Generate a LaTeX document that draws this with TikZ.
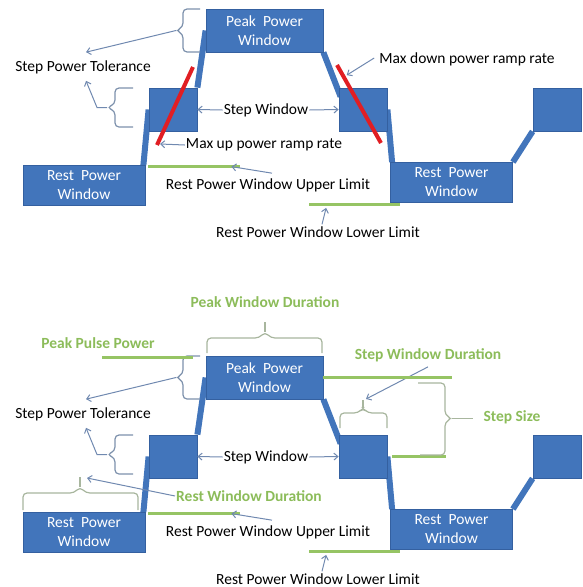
\documentclass[tikz,border=0pt]{standalone}
\usepackage{fontspec}
\setmainfont{Carlito}
\usepackage{xcolor}
\usetikzlibrary{arrows.meta,positioning,calc,backgrounds}
\definecolor{winblue}{RGB}{66,117,187}
\definecolor{winedge}{RGB}{52,96,160}
\definecolor{limgreen}{RGB}{150,196,100}
\definecolor{durgreen}{RGB}{140,188,90}
\definecolor{tolgrey}{RGB}{125,145,172}
\definecolor{durgrey}{RGB}{168,182,158}
\definecolor{ptrblue}{RGB}{112,137,176}
\definecolor{rampred}{RGB}{225,30,35}
\tikzset{
  win/.style={draw=winedge,line width=0.8pt,fill=winblue,text=white,align=center,
              font=\fontsize{15.5}{19}\selectfont,inner sep=0pt},
  restwin/.style={win,minimum width=122pt,minimum height=40pt},
  peakwin/.style={win,minimum width=117pt,minimum height=43pt},
  stepwin/.style={win,minimum width=48pt,minimum height=43pt},
  ramp/.style={winblue,line width=6pt},
  redramp/.style={rampred,line width=4pt},
  ptr/.style={-{Straight Barb[length=4pt,width=7pt]},ptrblue,line width=1pt},
  lbl/.style={font=\fontsize{15.5}{19}\selectfont,inner sep=1pt},
  glbl/.style={lbl,text=durgreen,font=\fontsize{15.5}{19}\selectfont\bfseries},
  lim/.style={limgreen,line width=3pt},
  tbrace/.style={tolgrey,line width=1.2pt,rounded corners=4pt},
  dbrace/.style={durgrey,line width=1.2pt,rounded corners=4pt}
}

\begin{document}
\begin{tikzpicture}[x=1pt,y=-1pt]
  \useasboundingbox (0,0) rectangle (583,587);
  % ---- the two power profiles (top: ramp rates, bottom: durations) ----
  \foreach \s/\dy in {t/0,b/347}{
  \begin{scope}[shift={(0,\dy)}]
    \node[restwin] (\s-restL) at (84,185.5) {Rest~ Power\\Window};
    \node[stepwin] (\s-stepL) at (173,109.5) {};
    \node[peakwin] (\s-peak) at (264.5,30.5) {Peak~ Power\\Window};
    \node[stepwin] (\s-stepR) at (363,109.5) {};
    \node[restwin] (\s-restR) at (451.5,182.5) {Rest~ Power\\Window};
    \node[stepwin] (\s-far) at (557,109.5) {};
    % ramps between windows
    \begin{scope}[on background layer]
      \draw[ramp] ([xshift=-2pt]\s-restL.north east) -- (\s-stepL.west);
      \draw[ramp] (\s-stepL.north east) -- (\s-peak.west);
      \draw[ramp] (\s-peak.south east) -- ($(\s-stepR.north west)+(2,9)$);
      \draw[ramp] (\s-stepR.east) -- ($(\s-restR.north west)+(2,0)$);
      \draw[ramp] (\s-restR.north east) -- (\s-far.south west);
    \end{scope}
    % labels
    \node[lbl] (\s-tol) at (83,67) {Step Power Tolerance};
    \node[lbl] (\s-sw) at (266,110) {Step Window};
    \node[lbl] (\s-upl) at (268,185) {Rest Power Window Upper Limit};
    \node[lbl] (\s-lol) at (318,232) {Rest Power Window Lower Limit};
    \draw[ptr] (\s-sw.west) -- (\s-stepL.east);
    \draw[ptr] (\s-sw.east) -- (\s-stepR.west);
    % rest window limits
    \coordinate (\s-upA) at ($(\s-restL.north east)+(3,1.5)$);
    \coordinate (\s-upB) at ($(\s-upA)+(92,0)$);
    \draw[lim] (\s-upA) -- (\s-upB);
    \draw[ptr] ($(\s-upl.north)+(4,-4)$) -- ($(\s-upB)+(-9,0)$);
    \coordinate (\s-loA) at ($(\s-restR.south west)+(-81,2)$);
    \coordinate (\s-loB) at ($(\s-restR.south west)+(10,2)$);
    \draw[lim] (\s-loA) -- (\s-loB);
    \draw[ptr] ($(\s-lol.north)+(4,-1)$) -- ($(\s-loA)+(17,3)$);
    % step power tolerance braces
    \draw[tbrace] (200,9) -| (183,27) -- (176,30.5) -- (183,34) |- (200,52);
    \coordinate (\s-tolA) at (176,30.5);
    \draw[ptr] (\s-tolA) -- ($(\s-tol.north)+(3,-7)$);
    \draw[tbrace] (133,88) -| (115,104) -- (107,107.5) -- (115,111) |- (133,127);
    \coordinate (\s-tolB) at (107,107.5);
    \draw[ptr] (\s-tolB) -- ++(-10,0) -- ($(\s-tol.south)+(3,6)$);
  \end{scope}
  }
  % ---- top: ramp rates ----
  \draw[redramp] (157,145) coordinate (upA) -- (193,67) coordinate (upB);
  \draw[redramp] (337,65) coordinate (dnA) -- (381,143) coordinate (dnB);
  \node[lbl] (maxup) at (264,145) {Max up power ramp rate};
  \node[lbl] (maxdn) at (467,59) {Max down power ramp rate};
  \draw[ptr] (maxup.west) -- ($(upA)+(3,-1)$);
  \draw[ptr] ($(maxdn.west)+(-4,-1)$) -- ($(dnA)!0.13!(dnB)+(4,0)$);
  % ---- bottom: durations and step size ----
  \node[glbl] (pwd) at (265,302) {Peak Window Duration};
  \draw[dbrace] (207,353) |- (259,338) -- (265,332) -- (271,338) -| (322,353);
  \draw[dbrace] (265,332) -- (265,322);
  \node[glbl] (ppp) at (98,343) {Peak Pulse Power};
  \draw[lim] (102,357) -- (193,357);
  \node[glbl] (rwd) at (249,496) {Rest Window Duration};
  \draw[dbrace] (23,510) |- (74,493) -- (80,487) -- (86,493) -| (138,510);
  \draw[dbrace] (80,487) -- (80,477);
  \draw[ptr] (rwd.west) -- (87,478);
  \node[glbl] (swd) at (428,355) {Step Window Duration};
  \draw[dbrace] (340,428) |- (358,413) -- (363,408) -- (368,413) -| (387,428);
  \draw[dbrace] (363,408) -- (363,400);
  \draw[ptr] ($(swd.south)+(0,4)$) -- (366,399);
  \draw[lim] (b-peak.east) -- ++(129,0);
  \draw[lim] ($(b-stepR.east)+(5,0)$) -- ++(54,0);
  \node[glbl] (ssz) at (512,417) {Step Size};
  \draw[dbrace] (418,383) -| (445,415) -- (452,418.5) -- (445,422) |- (420,455);
  \draw[dbrace] (452,418.5) -- (473,418.5);
\end{tikzpicture}
\end{document}
